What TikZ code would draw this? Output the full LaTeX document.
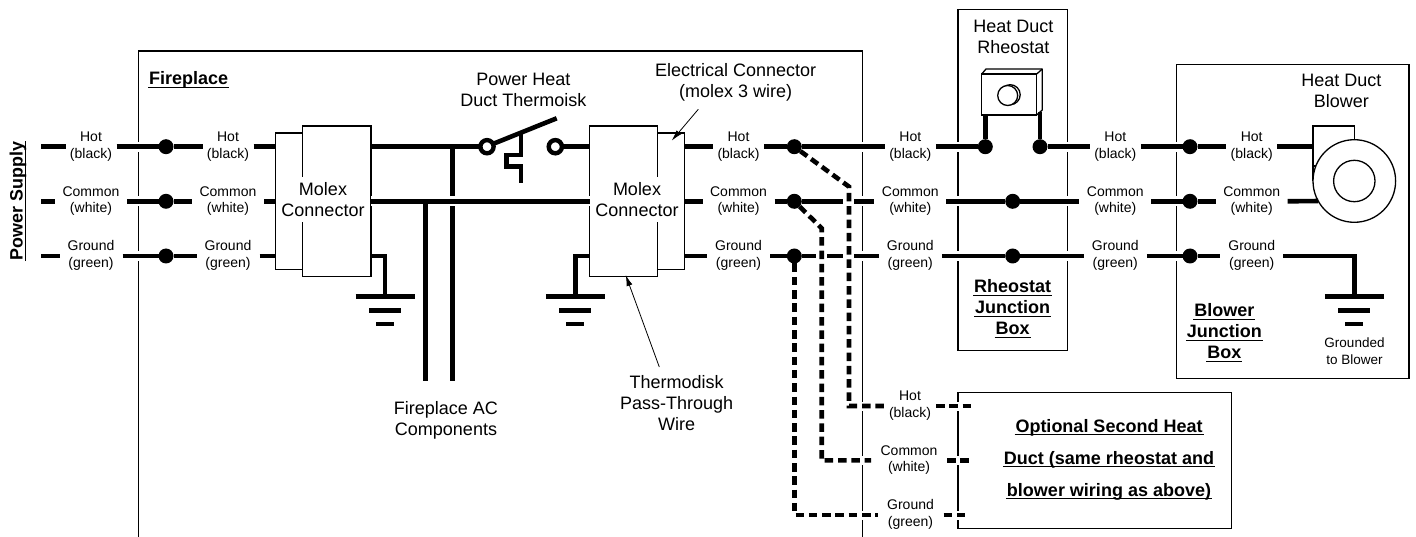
\documentclass[tikz,border=0pt]{standalone}
\usepackage{fontspec}
\setmainfont{Liberation Sans}
\usetikzlibrary{arrows.meta,calc}
\newcommand{\twol}[2]{#1\strut\\#2\strut}
\newcommand{\myul}[1]{\setbox0=\hbox{#1}\rlap{\kern-1pt\rule[-3.3pt]{\dimexpr\wd0+2pt\relax}{1.2pt}}\box0 }
\def\yh{146.7}\def\yc{201.3}\def\yg{256}
\tikzset{
 x=1pt,y=-1pt,
 thinbox/.style={line width=1.3pt,draw=black},
 wire/.style={line width=4.6pt,draw=black},
 xwire/.style={wire,preaction={draw=white,line width=10pt}},
 dwire/.style={wire,dash pattern=on 8.5pt off 4.8pt},
 patch/.style={draw=white,line width=9pt},
 jdot/.style={circle,fill=black,minimum size=15pt,inner sep=0pt,outer sep=0pt},
 contact/.style={circle,draw=black,fill=white,line width=4.4pt,minimum size=13.2pt,inner sep=0pt,outer sep=0pt},
 wl/.style={align=center,font=\fontsize{14}{16.7}\selectfont,inner sep=0pt,outer sep=0pt},
 hotl/.style={wl,minimum width=#1pt},
 coml/.style={wl,minimum width=#1pt},
 grdl/.style={wl,minimum width=#1pt},
 big/.style={align=center,font=\fontsize{18}{21}\selectfont,inner sep=0pt},
 boldt/.style={align=center,font=\fontsize{18}{21}\selectfont\bfseries,inner sep=0pt},
 mfront/.style={rectangle,thinbox,fill=white,minimum width=68.3pt,minimum height=150.3pt,inner sep=0pt,outer sep=0pt},
 mback/.style={rectangle,thinbox,minimum height=136.7pt,inner sep=0pt,outer sep=0pt},
 mtext/.style={big,fill=white,minimum width=86pt,minimum height=45pt},
 thinarrow/.style={line width=0.8pt,draw=black,-{Latex[length=11pt,width=6pt]}},
 gnd/.pic={
  \coordinate (-top) at (0,0);
  \draw[wire] (-29.5,0)--(29.5,0);
  \draw[wire] (-16,13.6)--(16,13.6);
  \draw[wire] (-9,27.3)--(9,27.3);
 },
}
\begin{document}
\begin{tikzpicture}
\useasboundingbox (0,0) rectangle (1416,537);

% enclosures
\draw[thinbox] (138.5,537)--(138.5,51)--(862.7,51)--(862.7,537);
\draw[thinbox] (958,9.3) rectangle (1067.3,350.7);
\draw[thinbox] (1176.7,64.7) rectangle (1409,378.3);
\draw[thinbox] (958,392.3) rectangle (1231.3,528.7);
\draw[patch] (853,406)--(872,406) (853,460.3)--(872,460.3) (853,515)--(872,515);
\draw[patch] (948,406)--(968,406) (948,460.3)--(968,460.3) (948,515)--(968,515);

% molex connectors
\node[mback,minimum width=49.4pt] (mAb) at (300,201.35) {};
\node[mfront] (mA) at (336.85,201.15) {};
\node[mback,minimum width=44.3pt] (mBb) at (662.15,201.35) {};
\node[mfront] (mB) at (623.65,201.15) {};
\node[mtext] (mAt) at (323,199.2) {Molex\\Connector};
\node[mtext] (mBt) at (637,199.2) {Molex\\Connector};

% labels
\node[wl,rotate=90,font=\fontsize{17.9}{21}\selectfont\bfseries] (ps) at (18,201) {\myul{Power Supply}};
\foreach \n/\x in {1/91,2/228,3/738.5,4/910.3,5/1115.3,6/1251.7}{
 \node[hotl=51] (h\n) at (\x,\yh) {\twol{Hot}{(black)}};
 \node[coml=72] (c\n) at (\x,\yc) {\twol{Common}{(white)}};
 \node[grdl=63] (g\n) at (\x,\yg) {\twol{Ground}{(green)}};
}
\node[hotl=52] (h7) at (910,406) {\twol{Hot}{(black)}};
\node[coml=76] (c7) at (909,460.3) {\twol{Common}{(white)}};
\node[grdl=66] (g7) at (910.5,515) {\twol{Ground}{(green)}};

\node[boldt,anchor=west] (fp) at (149,80) {\myul{Fireplace}};
\node[big] (sw) at (523.3,90) {Power Heat\\Duct Thermoisk};
\node[big] (ec) at (735.7,82.5) {Electrical Connector\\(molex 3 wire)};
\node[big] (ac) at (446,420) {Fireplace AC\\Components};
\node[big] (tp) at (676.7,403.5) {Thermodisk\\Pass-Through\\Wire};
\node[big] (hr) at (1013.3,36.4) {Heat Duct\\Rheostat};
\node[big] (hb) at (1341.3,90.6) {Heat Duct\\Blower};
\node[boldt] (rj) at (1012.7,309) {\myul{Rheostat}\\\myul{Junction}\\\myul{Box}};
\node[boldt] (bj) at (1224.3,333) {\myul{Blower}\\\myul{Junction}\\\myul{Box}};
\node[align=center,font=\fontsize{13.5}{17}\selectfont,inner sep=0pt] (gb) at (1354.5,351) {Grounded\\to Blower};
\node[align=center,font=\fontsize{18}{32}\selectfont\bfseries,inner sep=0pt] (opt) at (1109,459.5) {\myul{Optional Second Heat}\\\myul{Duct (same rheostat and}\\\myul{blower wiring as above)}};

% junction dots
\foreach \n/\x in {1/166,2/794.3,4/1190}{
 \node[jdot] (dh\n) at (\x,\yh) {};
 \node[jdot] (dc\n) at (\x,\yc) {};
 \node[jdot] (dg\n) at (\x,\yg) {};
}
\node[jdot] (dc3) at (1012.7,\yc) {};
\node[jdot] (dg3) at (1012.7,\yg) {};
\node[jdot] (dhl) at (985.3,\yh) {};
\node[jdot] (dhr) at (1040,\yh) {};

% free wire ends
\coordinate (hs) at (41,\yh); \coordinate (cs) at (41,\yc); \coordinate (gs) at (41,\yg);
\coordinate (cA) at (843,\yc); \coordinate (cB) at (854.3,\yc);
\coordinate (gA) at (816,\yg); \coordinate (gB) at (827,\yg);
\coordinate (gC) at (843,\yg); \coordinate (gD) at (854.3,\yg);

% power supply and fireplace left
\draw[wire] (hs)--(h1.west); \draw[wire] (cs)--(c1.west); \draw[wire] (gs)--(g1.west);
\draw[xwire] (h1.east)--(dh1); \draw[xwire] (c1.east)--(dc1); \draw[xwire] (g1.east)--(dg1);
\draw[wire] (dh1)--(h2.west); \draw[wire] (dc1)--(c2.west); \draw[wire] (dg1)--(g2.west);
\draw[wire] (h2.east)--(h2.east -| mAb.west);
\draw[wire] (c2.east)--(c2.east -| mAb.west);
\draw[wire] (g2.east)--(g2.east -| mAb.west);

% AC take-off, switch
\coordinate (ac1) at (425.7,380.5); \coordinate (ac2) at (452.7,380.5);
\node[contact] (k1) at (487,\yh) {};
\node[contact] (k2) at (555.3,\yh) {};
\draw[wire] (mA.east |- h1)--(k1);
\draw[wire] (ac2)--(ac2 |- h1);
\draw[xwire] (mA.east |- c1)--(mB.west |- c1);
\draw[wire] (ac1)--(ac1 |- c1);
\draw[wire] (k2)--(mB.west |- h1);
\coordinate (bladeEnd) at (556.7,118.3);
\coordinate (therm) at (521,131.4);
\draw[wire] (k1.25)--(bladeEnd);
\draw[wire] (therm)--(521,155)--(506.7,155)--(506.7,166.7)--(521,166.7)--(521,182.7);

% grounds of the molex connectors
\pic (gA1) at (385,296.7) {gnd};
\pic (gB1) at (575.3,296.7) {gnd};
\pic (gC1) at (1354.3,296.7) {gnd};
\draw[wire] (mA.east |- g1)-|(gA1-top);
\draw[wire] (mB.west |- g1)-|(gB1-top);

% fireplace right
\draw[wire] (mBb.east |- h1)--(h3.west);
\draw[wire] (mBb.east |- c1)--(c3.west);
\draw[wire] (mBb.east |- g1)--(g3.west);
\draw[wire] (h3.east)--(dh2); \draw[wire] (c3.east)--(dc2); \draw[wire] (g3.east)--(dg2);
\draw[xwire] (dh2)--(h4.west);
\draw[wire] (dc2)--(cA); \draw[xwire] (cB)--(c4.west);
\draw[wire] (dg2)--(gA); \draw[wire] (gB)--(gC); \draw[xwire] (gD)--(g4.west);

% rheostat box
\draw[xwire] (h4.east)--(dhl);
\draw[xwire] (dhr)--(h5.west);
\draw[xwire] (c4.east)--(dc3); \draw[xwire] (dc3)--(c5.west);
\draw[xwire] (g4.east)--(dg3); \draw[xwire] (dg3)--(g5.west);
\node[rectangle,thinbox,fill=white,minimum width=55pt,minimum height=41pt,inner sep=0pt,outer sep=0pt] (rheo) at (1009.2,94.5) {};
\draw[thinbox,line join=round] (rheo.north west)--(986,69)--(1042.3,69)--(1042.3,110)--(rheo.south east);
\draw[thinbox] (rheo.north east)--(1042.3,69);
\node[circle,thinbox,fill=white,minimum size=20pt,inner sep=0pt] (knobb) at (1010.2,94.7) {};
\node[circle,thinbox,fill=white,minimum size=20pt,inner sep=0pt] (knob) at (1007.7,95.5) {};
\draw[wire] (dhl)--(dhl |- rheo.south);
\coordinate (rr) at (1040,112);
\draw[wire] (dhr)--(rr);

% blower box
\draw[xwire] (h5.east)--(dh4); \draw[xwire] (c5.east)--(dc4); \draw[xwire] (g5.east)--(dg4);
\draw[wire] (dh4)--(h6.west); \draw[wire] (dc4)--(c6.west); \draw[wire] (dg4)--(g6.west);
\node[rectangle,thinbox,minimum width=41.3pt,minimum height=40pt,inner sep=0pt,outer sep=0pt,anchor=north west] (scroll) at (1313,126) {};
\draw[thinbox] (scroll.south west)--(1313,181);
\node[circle,thinbox,fill=white,minimum size=82.6pt,inner sep=0pt,outer sep=0pt] (blower) at (1354.3,181) {};
\node[circle,thinbox,minimum size=41.4pt,inner sep=0pt] (rotor) at (1354.3,181) {};
\draw[wire] (h6.east)--(h6.east -| scroll.west);
\draw[wire] (c6.east)--(blower.209);
\draw[wire] (g6.east)-|(gC1-top);

% optional second duct
\coordinate (oh) at (971.7,406); \coordinate (oc) at (971.7,460.3); \coordinate (og) at (966,515);
\draw[dwire] (dh2)--(849,186.7)--(849,406)--(h7.west);
\draw[dwire] (dc2)--(821.7,228.3)--(821.7,460.3)--(c7.west);
\draw[dwire] (dg2)--(794.3,515)--(g7.west);
\draw[dwire] (h7.east)--(oh);
\draw[dwire] (c7.east)--(oc);
\draw[dwire] (g7.east)--(og);

% leader arrows
\coordinate (ecTail) at (698.3,109.3); \coordinate (ecTip) at (671.7,140.7);
\coordinate (tpTail) at (659.3,367); \coordinate (tpTip) at (625.7,275);
\draw[thinarrow] (ecTail)--(ecTip);
\draw[thinarrow] (tpTail)--(tpTip);
\end{tikzpicture}
\end{document}
